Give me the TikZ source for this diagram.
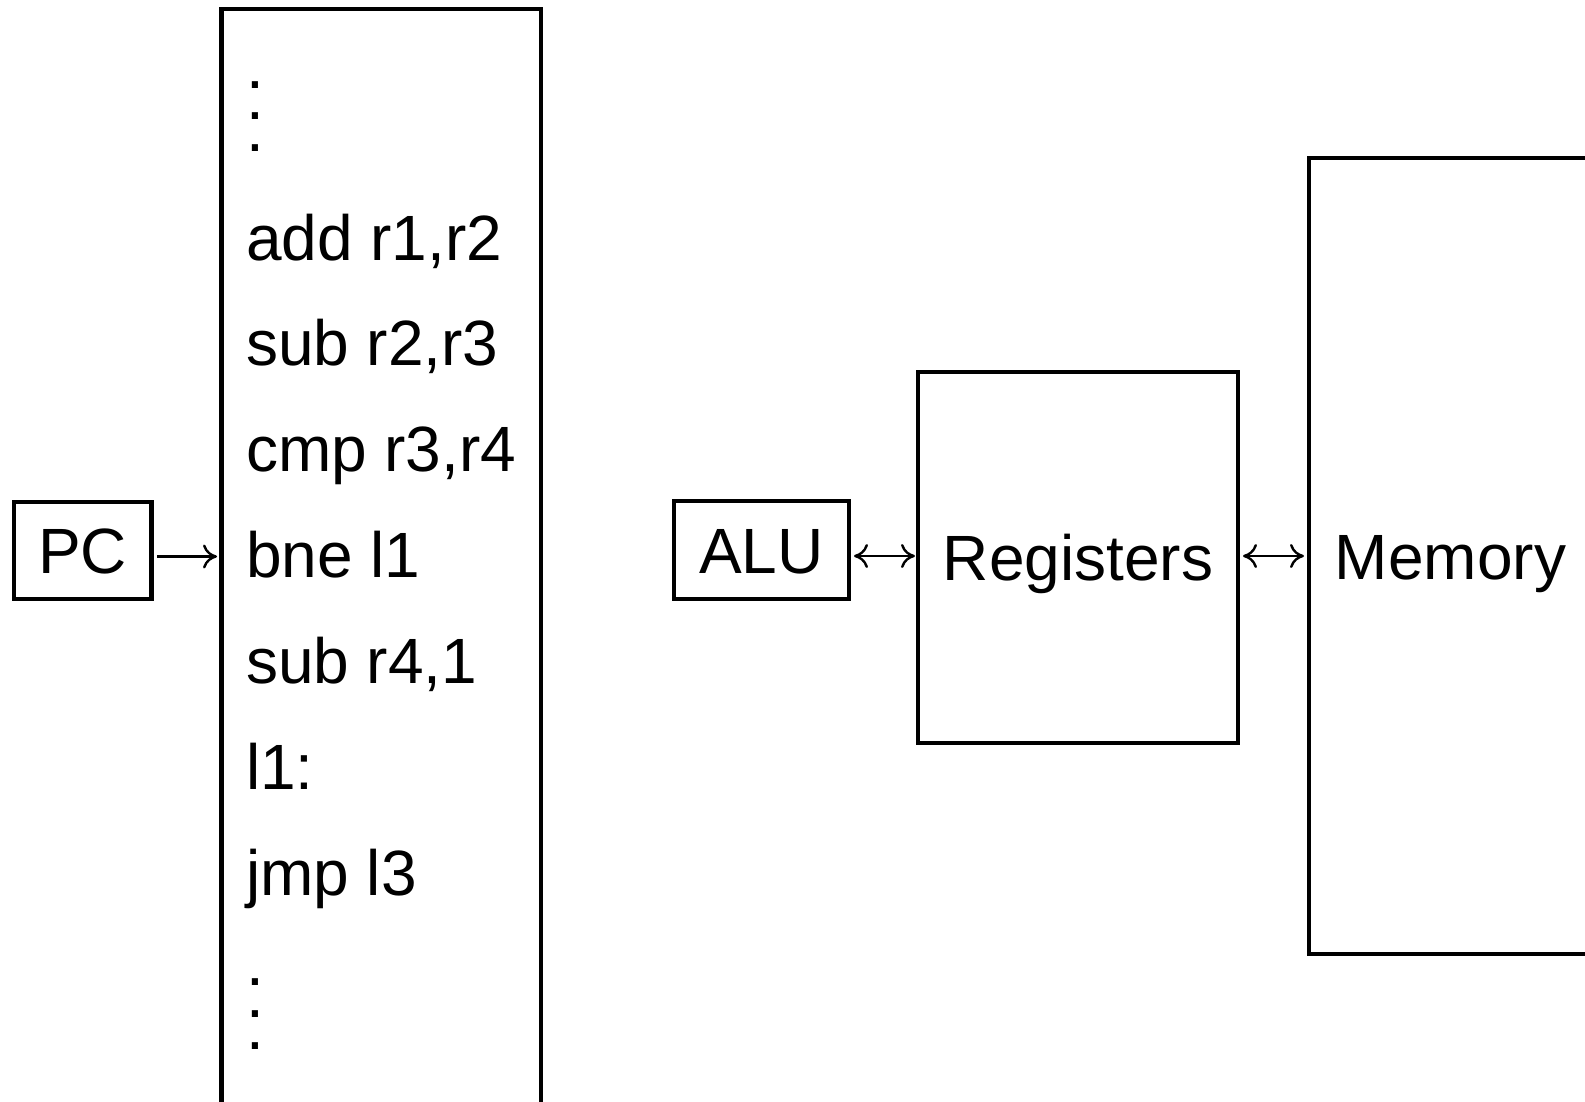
\documentclass[tikz,border=0pt]{standalone}
\usepackage{fontspec}
\setmainfont{Liberation Sans}
\usetikzlibrary{arrows.meta}
% three stacked full stops, baseline on the last one
\newcommand\stackdots{\vbox{\baselineskip=31.7pt\lineskiplimit=-\maxdimen\hbox{.}\hbox{.}\hbox{.}}}
\begin{document}
\begin{tikzpicture}[x=1pt,y=-1pt,
  every node/.style={inner sep=0pt, outer sep=0pt, font=\fontsize{64}{77}\selectfont},
  unit/.style={draw, rectangle, line width=4.6pt, text height=46pt, text depth=0pt},
  codeline/.style={anchor=base west},
  feed/.style={line width=2.4pt, -{Computer Modern Rightarrow[length=14pt,width=24pt]}},
  bus/.style={line width=2.4pt, {Computer Modern Rightarrow[length=14pt,width=24pt]}-{Computer Modern Rightarrow[length=14pt,width=24pt]}}
]
\useasboundingbox (0,0) rectangle (1585,1102);
\clip (0,0) rectangle (1585,1102);

% program counter and program listing
\node[unit, minimum width=137.5pt, minimum height=97pt] (pc) at (82.75,550.5) {PC};
\node[draw, rectangle, line width=4.6pt, minimum width=319.5pt, minimum height=1116pt] (prog) at (381.25,567) {};

\node[anchor=base west] (dotsA) at (246,151.5) {\stackdots};
\node[codeline] (c1) at (246,260) {add r1,r2};
\node[codeline] (c2) at (246,365.9) {sub r2,r3};
\node[codeline] (c3) at (246,471.8) {cmp r3,r4};
\node[codeline] (c4) at (246,577.7) {bne l1};
\node[codeline] (c5) at (246,683.6) {sub r4,1};
\node[codeline] (c6) at (246,789.5) {l1:};
\node[codeline] (c7) at (246,895.4) {jmp l3};
\node[anchor=base west] (dotsB) at (246,1049) {\stackdots};

% datapath units
\node[unit, minimum width=175pt, minimum height=98pt] (alu) at (761.5,550) {ALU};
\node[unit, minimum width=320pt, minimum height=371pt] (reg) at (1078,557.5) {Registers};
\node[unit, minimum width=283pt, minimum height=796pt] (mem) at (1450.5,556) {Memory};

% connectors
\draw[feed, shorten <=5.5pt, shorten >=4.5pt] ([yshift=-6pt]pc.east) -- ([yshift=-6pt]pc.east -| prog.west);
\draw[bus, shorten <=5pt, shorten >=3pt] ([yshift=-6pt]alu.east) -- ([yshift=-6pt]alu.east -| reg.west);
\draw[bus, shorten <=5pt, shorten >=5pt] ([yshift=1.5pt]reg.east) -- ([yshift=1.5pt]reg.east -| mem.west);
\end{tikzpicture}
\end{document}
